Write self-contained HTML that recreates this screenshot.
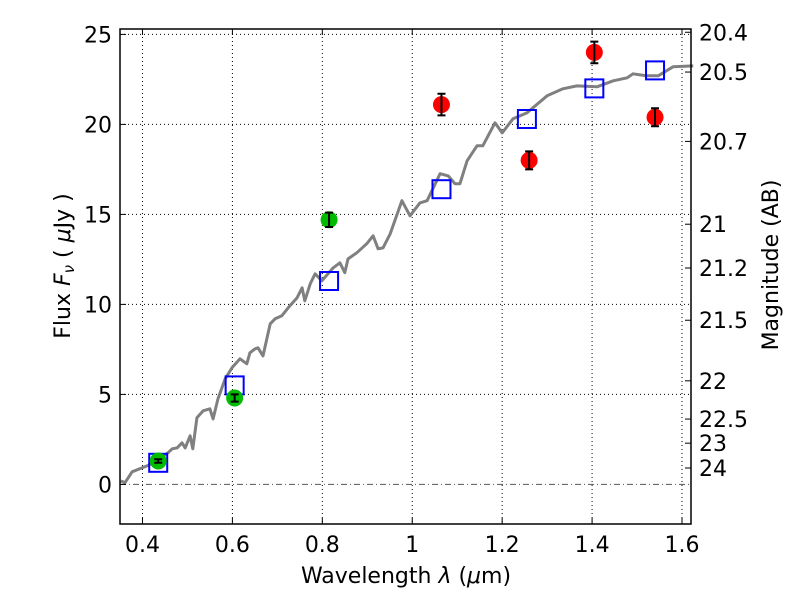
<!DOCTYPE html>
<html><head><meta charset="utf-8"><style>
body{margin:0;background:#fff}
svg text{font-family:"DejaVu Sans","Liberation Sans",sans-serif;fill:#000}
</style></head><body>
<svg id="chart" width="800" height="600" viewBox="0 0 800 600" xmlns="http://www.w3.org/2000/svg"></svg>
<script>
const specX=[0.352,0.361,0.377,0.410,0.432,0.457,0.466,0.477,0.488,0.495,0.506,0.512,0.521,0.535,0.550,0.557,0.568,0.584,0.599,0.617,0.632,0.639,0.650,0.657,0.668,0.684,0.695,0.710,0.724,0.744,0.755,0.761,0.773,0.784,0.799,0.824,0.839,0.850,0.857,0.877,0.899,0.913,0.924,0.935,0.951,0.977,0.995,1.017,1.033,1.062,1.080,1.095,1.106,1.122,1.144,1.157,1.184,1.200,1.224,1.255,1.300,1.335,1.366,1.411,1.447,1.478,1.491,1.522,1.547,1.580,1.625];
const specY=[0.20,0.09,0.70,1.03,1.31,1.76,1.98,2.03,2.31,2.03,2.70,1.98,3.70,4.09,4.20,3.64,4.76,5.87,6.48,6.98,6.70,7.31,7.53,7.59,7.14,8.92,9.20,9.37,9.81,10.37,10.92,10.20,11.14,11.70,11.31,12.03,12.31,11.76,12.53,12.87,13.37,13.81,13.09,13.14,13.92,15.76,14.92,15.64,15.76,17.26,17.14,16.70,16.70,17.98,18.81,18.81,20.09,19.53,20.31,20.64,21.59,21.98,22.14,22.09,22.42,22.59,22.81,22.70,22.70,23.20,23.25];
const greenX=[0.435,0.605,0.815];
const greenY=[1.3,4.8,14.7];
const greenErr=[0.1,0.2,0.4];
const redX=[1.065,1.26,1.405,1.54];
const redY=[21.1,18.0,24.0,20.4];
const redErr=[0.6,0.5,0.6,0.5];
const modelX=[0.435,0.605,0.815,1.065,1.255,1.405,1.54];
const modelY=[1.2,5.5,11.3,16.4,20.3,22.0,23.0];
const xTicks=[0.4,0.6,0.8,1.0,1.2,1.4,1.6];
const xTickLabels=["0.4","0.6","0.8","1","1.2","1.4","1.6"];
const yTicks=[0,5,10,15,20,25];
const magTicks=[20.4,20.5,20.7,21,21.2,21.5,22,22.5,23,24];
const magLabels=["20.4","20.5","20.7","21","21.2","21.5","22","22.5","23","24"];

const L=120,R=691,T=29,B=524,X0=0.35,X1=1.62,Y0=-2.2,Y1=25.3;
const sx=v=>L+(v-X0)/(X1-X0)*(R-L);
const sy=v=>B-(v-Y0)/(Y1-Y0)*(B-T);
const svg=document.getElementById('chart');
const NS='http://www.w3.org/2000/svg';
function mk(tag,attrs,parent){const e=document.createElementNS(NS,tag);for(const k in attrs)e.setAttribute(k,attrs[k]);(parent||svg).appendChild(e);return e;}

xTicks.forEach(t=>{const g=mk('line',{x1:sx(t),x2:sx(t),y1:T,y2:B,stroke:'#000','stroke-width':1,'stroke-dasharray':'1,3'});

});
yTicks.forEach(t=>{if(t===0)return;const g=mk('line',{x1:L,x2:R,y1:sy(t),y2:sy(t),stroke:'#000','stroke-width':1,'stroke-dasharray':'1,3'});

});
const zl=mk('line',{x1:L,x2:R,y1:sy(0),y2:sy(0),stroke:'#555','stroke-width':1,'stroke-dasharray':'6,3,1,3'});



let d='';specX.forEach((x,i)=>{d+=(i?'L':'M')+sx(x).toFixed(1)+','+sy(specY[i]).toFixed(1);});
const sp=mk('path',{d:d,fill:'none',stroke:'#808080','stroke-width':3,'stroke-linejoin':'round'});



modelX.forEach((x,i)=>{const r=mk('rect',{x:sx(x)-9,y:sy(modelY[i])-9,width:18,height:18,fill:'none',stroke:'#0000ff','stroke-width':2});

});

function pts(xs,ys,es,color,name){xs.forEach((x,i)=>{
 const c=mk('circle',{cx:sx(x),cy:sy(ys[i]),r:8.5,fill:color});
 
 
 const cx=sx(x),y1=sy(ys[i]+es[i]),y2=sy(ys[i]-es[i]);
 const e=mk('path',{d:`M${cx},${y1}V${y2}M${cx-4},${y1}H${cx+4}M${cx-4},${y2}H${cx+4}`,stroke:'#000','stroke-width':2,fill:'none'});
 
 
});}
pts(greenX,greenY,greenErr,'#00bb00','observed-point-green');
pts(redX,redY,redErr,'#ff0000','observed-point-red');

const fr=mk('rect',{x:L,y:T,width:R-L,height:B-T,fill:'none',stroke:'#000','stroke-width':1.5});



xTicks.forEach((t,i)=>{const x=sx(t);
 mk('line',{x1:x,x2:x,y1:B,y2:B-6,stroke:'#000'});mk('line',{x1:x,x2:x,y1:T,y2:T+6,stroke:'#000'});
 const tx=mk('text',{x:x,y:B+28,'font-size':22,'text-anchor':'middle'});tx.textContent=xTickLabels[i];
 
 });
yTicks.forEach(t=>{const y=sy(t);
 mk('line',{x1:L,x2:L+6,y1:y,y2:y,stroke:'#000'});
 const tx=mk('text',{x:L-8,y:y+8,'font-size':22,'text-anchor':'end'});tx.textContent=String(t);
 
 });
magTicks.forEach((m,i)=>{const y=sy(Math.pow(10,(23.9-m)/2.5));
 mk('line',{x1:R,x2:R-6,y1:y,y2:y,stroke:'#000'});
 const tx=mk('text',{x:R+8,y:y+8,'font-size':22});tx.textContent=magLabels[i];
 
 });
</script>
<svg style="position:absolute;left:0;top:0" width="800" height="600">
<text x="406" y="583" font-size="22" text-anchor="middle" font-family="DejaVu Sans,Liberation Sans,sans-serif">Wavelength  <tspan font-style="italic">λ</tspan> (<tspan font-style="italic">μ</tspan>m)</text>
<text transform="translate(70,266) rotate(-90)" font-size="22" text-anchor="middle" font-family="DejaVu Sans,Liberation Sans,sans-serif">Flux  <tspan font-style="italic">F</tspan><tspan font-style="italic" font-size="15" dy="4">ν</tspan><tspan dy="-4">  (  </tspan><tspan font-style="italic">μ</tspan>Jy )</text>
<text transform="translate(778,265) rotate(-90)" font-size="22" text-anchor="middle" font-family="DejaVu Sans,Liberation Sans,sans-serif">Magnitude (AB)</text>
</svg>
</body></html>
